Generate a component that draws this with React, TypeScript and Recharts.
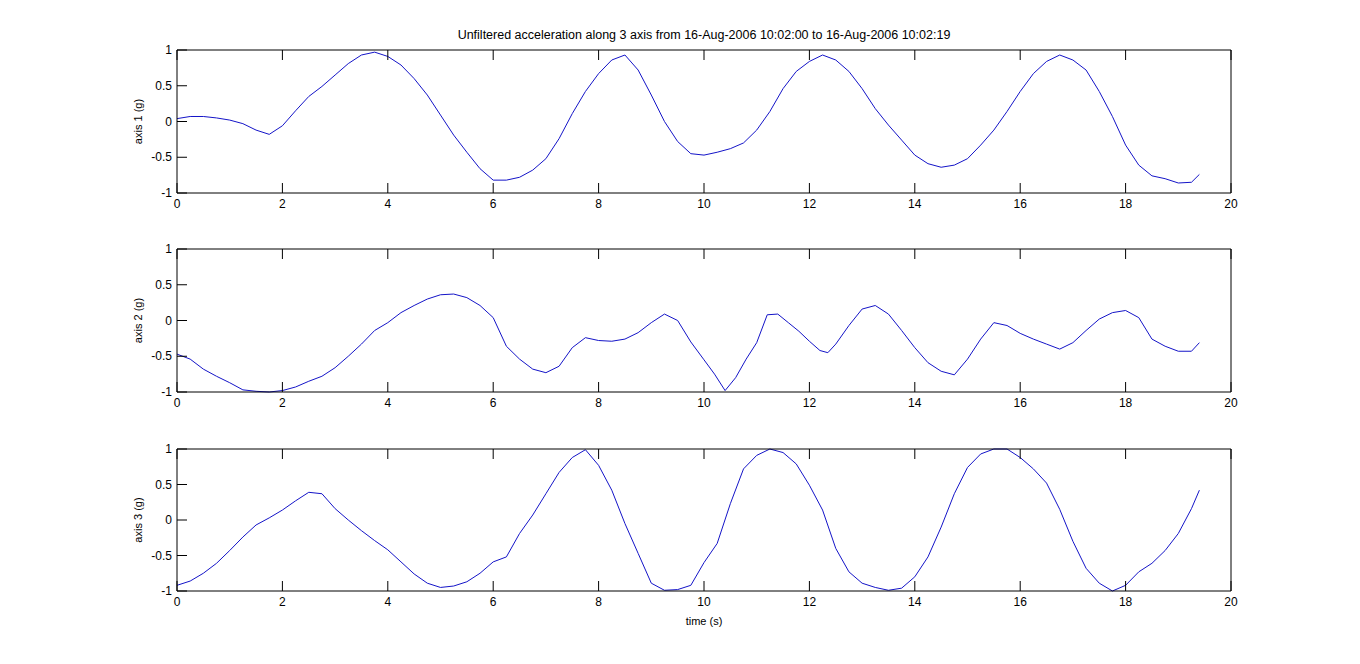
import { LineChart, Line, XAxis, YAxis } from "recharts";

// time stamps (s) shared by axis 1 and axis 3
const timeA = [
  0, 0.25, 0.5, 0.75, 1, 1.25, 1.5, 1.75, 2, 2.25, 2.5, 2.75, 3, 3.25, 3.5, 3.75, 4, 4.25, 4.5, 4.75,
  5, 5.25, 5.5, 5.75, 6, 6.25, 6.5, 6.75, 7, 7.25, 7.5, 7.75, 8, 8.25, 8.5, 8.75, 9, 9.25, 9.5, 9.75,
  10, 10.25, 10.5, 10.75, 11, 11.25, 11.5, 11.75, 12, 12.25, 12.5, 12.75, 13, 13.25, 13.5, 13.75,
  14, 14.25, 14.5, 14.75, 15, 15.25, 15.5, 15.75, 16, 16.25, 16.5, 16.75, 17, 17.25, 17.5, 17.75,
  18, 18.25, 18.5, 18.75, 19, 19.25, 19.4,
];

const axis1 = [
  0.04, 0.07, 0.07, 0.05, 0.02, -0.03, -0.12, -0.18, -0.06, 0.15, 0.35, 0.49, 0.65, 0.81, 0.93, 0.97, 0.91, 0.79, 0.6, 0.37,
  0.09, -0.19, -0.43, -0.66, -0.82, -0.82, -0.78, -0.68, -0.52, -0.24, 0.11, 0.42, 0.67, 0.86, 0.93, 0.72, 0.37, 0.0, -0.28, -0.45,
  -0.47, -0.43, -0.38, -0.3, -0.12, 0.14, 0.46, 0.7, 0.84, 0.93, 0.86, 0.7, 0.46, 0.18, -0.05, -0.26,
  -0.47, -0.59, -0.64, -0.61, -0.52, -0.33, -0.12, 0.14, 0.42, 0.67, 0.84, 0.93, 0.86, 0.72, 0.42, 0.07,
  -0.33, -0.61, -0.76, -0.8, -0.86, -0.85, -0.74,
];

const axis3 = [
  -0.92, -0.86, -0.75, -0.61, -0.43, -0.24, -0.07, 0.03, 0.14, 0.27, 0.39, 0.37, 0.16, 0.0, -0.15, -0.29, -0.42, -0.59, -0.76, -0.89,
  -0.95, -0.93, -0.87, -0.75, -0.59, -0.52, -0.19, 0.07, 0.37, 0.67, 0.88, 0.99, 0.77, 0.42, -0.05, -0.47, -0.89, -0.99, -0.98, -0.92,
  -0.6, -0.33, 0.23, 0.72, 0.91, 1.0, 0.95, 0.79, 0.49, 0.14, -0.4, -0.73, -0.89, -0.95, -0.99, -0.96,
  -0.8, -0.52, -0.1, 0.37, 0.74, 0.93, 1.0, 1.0, 0.88, 0.72, 0.52, 0.15, -0.3, -0.68, -0.89, -1.0,
  -0.92, -0.73, -0.61, -0.43, -0.19, 0.16, 0.42,
];

// axis 2 has a few extra samples around its sharp dips
const timeB = [
  0, 0.25, 0.5, 0.75, 1, 1.25, 1.5, 1.75, 2, 2.25, 2.5, 2.75, 3, 3.25, 3.5, 3.75, 4, 4.25, 4.5, 4.75,
  5, 5.25, 5.5, 5.75, 6, 6.25, 6.5, 6.75, 7, 7.25, 7.5, 7.75, 8, 8.25, 8.5, 8.75, 9, 9.25, 9.5, 9.75,
  10, 10.2, 10.4, 10.6, 10.8, 11, 11.2, 11.4, 11.6, 11.8, 12, 12.2, 12.35, 12.5, 12.75, 13, 13.25, 13.5, 13.75,
  14, 14.25, 14.5, 14.75, 15, 15.25, 15.5, 15.75, 16, 16.25, 16.5, 16.75, 17, 17.25, 17.5, 17.75,
  18, 18.25, 18.5, 18.75, 19, 19.25, 19.4,
];

const axis2 = [
  -0.47, -0.54, -0.68, -0.78, -0.87, -0.97, -0.99, -1.0, -0.98, -0.93, -0.85, -0.78, -0.66, -0.5, -0.33, -0.14, -0.03, 0.11, 0.21, 0.3,
  0.36, 0.37, 0.32, 0.21, 0.04, -0.36, -0.54, -0.68, -0.73, -0.64, -0.38, -0.24, -0.28, -0.29, -0.26, -0.17, -0.03, 0.09, 0.0, -0.3,
  -0.55, -0.75, -0.98, -0.8, -0.54, -0.31, 0.08, 0.09, -0.03, -0.15, -0.29, -0.42, -0.45, -0.33, -0.07, 0.16, 0.21, 0.09, -0.14,
  -0.38, -0.59, -0.71, -0.76, -0.54, -0.26, -0.03, -0.07, -0.18, -0.26, -0.33, -0.4, -0.31, -0.14, 0.02, 0.11,
  0.14, 0.04, -0.26, -0.36, -0.43, -0.43, -0.31,
];

const xTicks = [0, 2, 4, 6, 8, 10, 12, 14, 16, 18, 20];
const yTicks = [-1, -0.5, 0, 0.5, 1];
const title = "Unfiltered acceleration along 3 axis from 16-Aug-2006 10:02:00 to 16-Aug-2006 10:02:19";
const xLabel = "time (s)";

const FONT = "'Liberation Sans', Arial, Helvetica, sans-serif";
const LINE = "#1414c8";
const TICK = 10;

const rows1 = timeA.map((t, i) => ({ t, v: axis1[i] }));
const rows2 = timeB.map((t, i) => ({ t, v: axis2[i] }));
const rows3 = timeA.map((t, i) => ({ t, v: axis3[i] }));

// MATLAB style: ticks point into the box, on all four sides
function BottomTick(props: any) {
  const { x, y, payload } = props;
  return (
    <g>
      <line x1={x} x2={x} y1={y} y2={y - TICK} stroke="#000" />
      <text x={x} y={y + 15} textAnchor="middle" fontSize={12} fontFamily={FONT} fill="#000">
        {payload.value}
      </text>
    </g>
  );
}

function TopTick(props: any) {
  const { x, y } = props;
  return <line x1={x} x2={x} y1={y} y2={y + TICK} stroke="#000" />;
}

function LeftTick(props: any) {
  const { x, y, payload } = props;
  return (
    <g>
      <line x1={x} x2={x + TICK} y1={y} y2={y} stroke="#000" />
      <text x={x - 5} y={y + 4} textAnchor="end" fontSize={12} fontFamily={FONT} fill="#000">
        {payload.value}
      </text>
    </g>
  );
}

function RightTick(props: any) {
  const { x, y } = props;
  return <line x1={x} x2={x - TICK} y1={y} y2={y} stroke="#000" />;
}

interface PanelProps {
  data: { t: number; v: number }[];
  label: string;
  top: number;
  height: number;
  plotTop: number;
  plotBottom: number;
  showXLabel?: boolean;
}

function Panel({ data, label, top, height, plotTop, plotBottom, showXLabel }: PanelProps) {
  const xAxisHeight = showXLabel ? 37 : 20;
  return (
    <div style={{ position: "absolute", left: 0, top }}>
      <LineChart
        width={1360}
        height={height}
        data={data}
        margin={{ top: plotTop - 1, right: 128, left: 99, bottom: height - plotBottom - xAxisHeight }}
      >
        <XAxis
          dataKey="t"
          type="number"
          domain={[0, 20]}
          ticks={xTicks}
          interval={0}
          height={xAxisHeight}
          axisLine={{ stroke: "#000" }}
          tickLine={false}
          tickSize={0}
          tickMargin={0}
          tick={<BottomTick />}
          label={
            showXLabel
              ? { value: xLabel, position: "insideBottom", offset: 3, fontSize: 11, fontFamily: FONT, fill: "#000" }
              : undefined
          }
        />
        <XAxis
          xAxisId="top"
          orientation="top"
          dataKey="t"
          type="number"
          domain={[0, 20]}
          ticks={xTicks}
          interval={0}
          height={1}
          axisLine={{ stroke: "#000" }}
          tickLine={false}
          tickSize={0}
          tickMargin={0}
          tick={<TopTick />}
        />
        <YAxis
          type="number"
          domain={[-1, 1]}
          ticks={yTicks}
          interval={0}
          width={78}
          axisLine={{ stroke: "#000" }}
          tickLine={false}
          tickSize={0}
          tickMargin={0}
          tick={<LeftTick />}
          label={{ value: label, angle: -90, position: "center", fontSize: 11, fontFamily: FONT, fill: "#000" }}
        />
        <YAxis
          yAxisId="right"
          orientation="right"
          type="number"
          domain={[-1, 1]}
          ticks={yTicks}
          interval={0}
          width={1}
          axisLine={{ stroke: "#000" }}
          tickLine={false}
          tickSize={0}
          tickMargin={0}
          tick={<RightTick />}
        />
        <Line
          type="linear"
          dataKey="v"
          stroke={LINE}
          strokeWidth={1}
          dot={false}
          isAnimationActive={false}
        />
      </LineChart>
    </div>
  );
}

export default function App() {
  return (
    <div style={{ position: "absolute", left: 0, top: 0, width: 1360, height: 664, background: "#fff" }}>
      <div
        style={{
          position: "absolute",
          left: 177,
          top: 28,
          width: 1054,
          textAlign: "center",
          fontFamily: FONT,
          fontSize: 12.5,
          lineHeight: "15px",
          color: "#000",
        }}
      >
        {title}
      </div>
      <Panel data={rows1} label="axis 1 (g)" top={0} height={220} plotTop={50} plotBottom={193} />
      <Panel data={rows2} label="axis 2 (g)" top={220} height={200} plotTop={29} plotBottom={172} />
      <Panel data={rows3} label="axis 3 (g)" top={420} height={244} plotTop={29} plotBottom={171} showXLabel />
    </div>
  );
}
